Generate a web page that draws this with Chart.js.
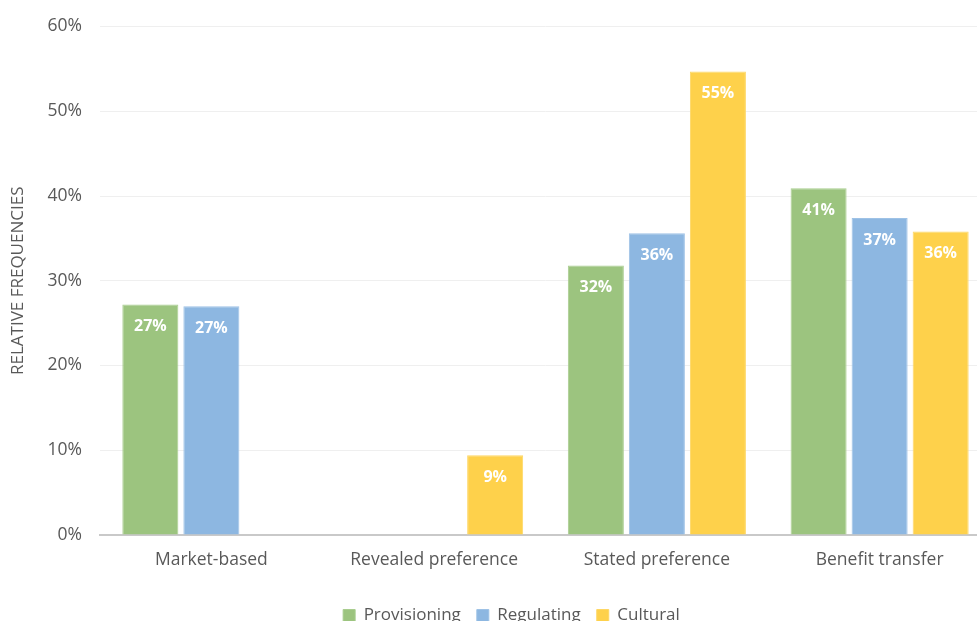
<!DOCTYPE html>
<html>
<head>
<meta charset="utf-8">
<script src="https://cdn.jsdelivr.net/npm/chart.js@4/dist/chart.umd.min.js"></script>
<style>
    html, body { margin: 0; padding: 0; background: #ffffff; }
    .frame { width: 977px; height: 621px; overflow: hidden; position: relative; }
    .wrap { width: 995px; height: 660px; position: absolute; left: 0; top: -2px; }
</style>
</head>
<body>
<div class="frame">
    <div class="wrap"><canvas id="chart"></canvas></div>
</div>
<script>
const categories   = ['Market-based', 'Revealed preference', 'Stated preference', 'Benefit transfer'];
const provisioning = [27.2, 0, 31.8, 40.9];
const regulating   = [27.0, 0, 35.6, 37.4];
const cultural     = [0, 9.4, 54.7, 35.8];
const yTicks       = [0, 10, 20, 30, 40, 50, 60];

const FONT = '"Open Sans", sans-serif';
const GREY = '#595959';

// ── Etiquetas dentro de las barras ──
const barLabels = {
    id: 'barLabels',
    afterDatasetsDraw(chart) {
        const ctx = chart.ctx;
        ctx.save();
        ctx.fillStyle = '#ffffff';
        ctx.font = `bold 16px ${FONT}`;
        ctx.textAlign = 'center';
        ctx.textBaseline = 'middle';
        chart.data.datasets.forEach((ds, i) => {
            chart.getDatasetMeta(i).data.forEach((bar, j) => {
                const v = ds.data[j];
                if (!v) return;
                ctx.fillText(`${Math.round(v)}%`, bar.x, bar.y + 22);
            });
        });
        ctx.restore();
    }
};

// la leyenda va un poco a la derecha del centro
const legendShift = {
    id: 'legendShift',
    afterUpdate(chart) {
        chart.legend.left += 12;
        chart.legend.right += 12;
    }
};

new Chart(document.getElementById('chart'), {
    type: 'bar',
    data: {
        labels: categories,
        datasets: [
            { label: 'Provisioning', data: provisioning, backgroundColor: '#9cc47f', borderColor: '#a9cd8f', borderWidth: 1 },
            { label: 'Regulating',   data: regulating,   backgroundColor: '#8db7e1', borderColor: '#9ec2e6', borderWidth: 1 },
            { label: 'Cultural',     data: cultural,     backgroundColor: '#fed14b', borderColor: '#fed764', borderWidth: 1 },
        ]
    },
    options: {
        responsive: true,
        maintainAspectRatio: false,
        animation: false,
        datasets: { bar: { categoryPercentage: 0.822, barPercentage: 0.918 } },
        layout: { padding: { left: 8, top: 20, right: 4, bottom: 24 } },
        plugins: {
            tooltip: { enabled: false },
            legend: {
                position: 'bottom',
                labels: {
                    color: GREY,
                    font: { family: FONT, size: 17 },
                    boxWidth: 12,
                    boxHeight: 12,
                    padding: 16,
                }
            }
        },
        scales: {
            x: {
                grid: { display: false, drawTicks: false },
                border: { color: '#c9c9c9', width: 2 },
                ticks: { color: GREY, font: { family: FONT, size: 17.5 }, padding: 15 },
                afterFit(scale) { scale.height = 56; }
            },
            y: {
                min: 0,
                max: 60,
                afterBuildTicks(scale) { scale.ticks = yTicks.map(v => ({ value: v })); },
                grid: { color: '#efefef', drawTicks: false },
                border: { display: false },
                ticks: { color: GREY, font: { family: FONT, size: 17.5 }, padding: 18, callback: v => `${v}%` },
                title: { display: true, text: 'RELATIVE FREQUENCIES', color: GREY, font: { family: FONT, size: 17 }, padding: 0 },
                afterFit(scale) { scale.width = 92; }
            }
        }
    },
    plugins: [barLabels, legendShift]
});
</script>
</body>
</html>
